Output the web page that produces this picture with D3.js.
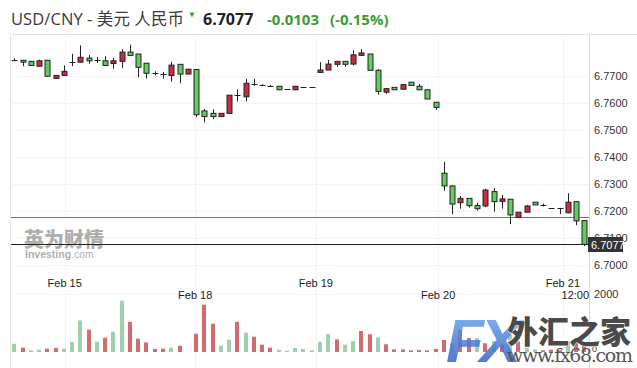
<!DOCTYPE html>
<html>
<head>
<meta charset="utf-8">
<script src="https://cdn.jsdelivr.net/npm/d3@7"></script>
<style>
  body { margin: 0; background: #fff; }
  svg { display: block; font-family: Arial, "Liberation Sans", sans-serif; }
</style>
</head>
<body>
<div id="chart"></div>
<script>
const opens = [6.7759, 6.7757, 6.7753, 6.7735, 6.7757, 6.7690, 6.7701, 6.7750, 6.7750, 6.7765,
  6.7759, 6.7755, 6.7745, 6.7753, 6.7787, 6.7780, 6.7746, 6.7709, 6.7706, 6.7701,
  6.7742, 6.7706, 6.7723, 6.7570, 6.7561, 6.7549, 6.7561, 6.7628, 6.7622, 6.7670,
  6.7666, 6.7663, 6.7661, 6.7650, 6.7648, 6.7659, 6.7659, 6.7712, 6.7721, 6.7742,
  6.7753, 6.7743, 6.7775, 6.7780, 6.7720, 6.7639, 6.7657, 6.7650, 6.7676, 6.7661,
  6.7648, 6.7602, 6.7340, 6.7293, 6.7231, 6.7247, 6.7221, 6.7219, 6.7272, 6.7236,
  6.7244, 6.7177, 6.7196, 6.7233, 6.7223, 6.7210, 6.7210, 6.7194, 6.7235, 6.7165];
const highs = [6.7765, 6.7758, 6.7753, 6.7759, 6.7757, 6.7701, 6.7738, 6.7781, 6.7812, 6.7777,
  6.7769, 6.7772, 6.7765, 6.7798, 6.7814, 6.7780, 6.7746, 6.7716, 6.7714, 6.7751,
  6.7742, 6.7724, 6.7723, 6.7577, 6.7576, 6.7561, 6.7628, 6.7649, 6.7689, 6.7689,
  6.7669, 6.7666, 6.7661, 6.7650, 6.7661, 6.7659, 6.7659, 6.7750, 6.7758, 6.7753,
  6.7753, 6.7794, 6.7798, 6.7780, 6.7724, 6.7652, 6.7657, 6.7667, 6.7676, 6.7669,
  6.7648, 6.7602, 6.7382, 6.7296, 6.7256, 6.7247, 6.7231, 6.7283, 6.7285, 6.7260,
  6.7244, 6.7196, 6.7223, 6.7233, 6.7228, 6.7210, 6.7210, 6.7266, 6.7235, 6.7165];
const lows = [6.7753, 6.7735, 6.7738, 6.7735, 6.7698, 6.7690, 6.7701, 6.7735, 6.7747, 6.7744,
  6.7747, 6.7738, 6.7726, 6.7728, 6.7772, 6.7694, 6.7689, 6.7701, 6.7689, 6.7678,
  6.7672, 6.7706, 6.7547, 6.7528, 6.7540, 6.7549, 6.7561, 6.7605, 6.7605, 6.7663,
  6.7662, 6.7660, 6.7648, 6.7650, 6.7648, 6.7659, 6.7659, 6.7710, 6.7721, 6.7733,
  6.7733, 6.7738, 6.7775, 6.7720, 6.7630, 6.7633, 6.7648, 6.7650, 6.7664, 6.7648,
  6.7614, 6.7574, 6.7275, 6.7188, 6.7209, 6.7213, 6.7202, 6.7215, 6.7198, 6.7209,
  6.7152, 6.7177, 6.7196, 6.7223, 6.7217, 6.7210, 6.7189, 6.7192, 6.7148, 6.7071];
const closes = [6.7759, 6.7750, 6.7738, 6.7755, 6.7698, 6.7701, 6.7716, 6.7750, 6.7768, 6.7755,
  6.7759, 6.7738, 6.7755, 6.7787, 6.7775, 6.7731, 6.7709, 6.7709, 6.7706, 6.7739,
  6.7706, 6.7724, 6.7556, 6.7549, 6.7549, 6.7561, 6.7628, 6.7628, 6.7672, 6.7670,
  6.7666, 6.7663, 6.7648, 6.7650, 6.7661, 6.7659, 6.7659, 6.7721, 6.7743, 6.7753,
  6.7742, 6.7777, 6.7784, 6.7720, 6.7642, 6.7652, 6.7648, 6.7667, 6.7664, 6.7648,
  6.7614, 6.7583, 6.7293, 6.7226, 6.7247, 6.7220, 6.7209, 6.7278, 6.7235, 6.7245,
  6.7186, 6.7196, 6.7219, 6.7223, 6.7223, 6.7210, 6.7210, 6.7233, 6.7164, 6.7077];

const volumes = [286, 150, 57, 80, 115, 138, 115, 355, 1090, 770,
  355, 493, 700, 1770, 1045, 459, 333, 103, 115, 150,
  217, 0, 631, 1630, 977, 217, 425, 1045, 666, 528,
  252, 150, 80, 45, 138, 103, 57, 355, 620, 438,
  252, 380, 724, 610, 507, 265, 90, 90, 57, 68,
  57, 103, 414, 300, 760, 480, 480, 300, 380, 250,
  590, 360, 140, 90, 60, 80, 60, 380, 360, 300];
const volumeUp = "uduudduuududuuddddduddddduududdduuuuuuuduuddudddddddduddudududuudddudd";

const priceTicks = [6.70, 6.71, 6.72, 6.73, 6.74, 6.75, 6.76, 6.77];
const volumeTicks = [0, 2000];
const dateLabels = ["Feb 15", "Feb 18", "Feb 19", "Feb 20", "Feb 21", "12:00"];
const datePositions = [6.1, 21.9, 36.5, 51.3, 66.4, 67.9];
const dateRows = [0, 1, 0, 1, 0, 1];
const prevClose = 6.7180;
const lastPrice = 6.7077;

const width = 637;
const height = 368;

const fmt4 = (v) => d3.format(".4f")(v).replace("\u2212", "-");
const fmt2 = (v) => d3.format(".2f")(v).replace("\u2212", "-");

const svg = d3.select("#chart")
  .append("svg")
  .attr("width", width)
  .attr("height", height);

const x = d3.scaleLinear().domain([0, opens.length - 1]).range([14.3, 584.4]);
const y = d3.scaleLinear().domain([6.70, 6.77]).range([265.3, 75.7]);
const yVol = d3.scaleLinear().domain([0, 2000]).range([352, 294]);

// frame and grid
svg.append("line")
  .attr("x1", 10).attr("x2", width).attr("y1", 34.5).attr("y2", 34.5)
  .attr("stroke", "#e3e3e3");
svg.append("line")
  .attr("x1", 10.5).attr("x2", 10.5).attr("y1", 34.5).attr("y2", height)
  .attr("stroke", "#e3e3e3");

svg.selectAll(".hgrid")
  .data(priceTicks)
  .join("line")
  .attr("class", "hgrid")
  .attr("x1", 11).attr("x2", 589)
  .attr("y1", (d) => Math.round(y(d)) + 0.5)
  .attr("y2", (d) => Math.round(y(d)) + 0.5)
  .attr("stroke", "#f3f3f3");

svg.selectAll(".vgrid")
  .data(datePositions.slice(0, 5))
  .join("line")
  .attr("class", "vgrid")
  .attr("x1", (d) => Math.round(x(d)) + 0.5)
  .attr("x2", (d) => Math.round(x(d)) + 0.5)
  .attr("y1", 35).attr("y2", height)
  .attr("stroke", "#f3f3f3");

svg.append("line")
  .attr("x1", 11).attr("x2", 589).attr("y1", yVol(2000) + 0.5).attr("y2", yVol(2000) + 0.5)
  .attr("stroke", "#f3f3f3");

svg.append("line")
  .attr("x1", 589.5).attr("x2", 589.5).attr("y1", 35).attr("y2", height)
  .attr("stroke", "#d8d8d8");

// Investing watermark
const inv = svg.append("g").attr("opacity", 0.6);
inv.append("text")
  .attr("x", 24).attr("y", 247)
  .attr("font-family", "'Noto Sans CJK SC', sans-serif")
  .attr("font-size", 20).attr("font-weight", 900)
  .attr("fill", "#7a7a7a")
  .text("英为财情");
inv.append("text")
  .attr("x", 25).attr("y", 258)
  .attr("font-size", 10.5)
  .attr("fill", "#7a7a7a")
  .html('<tspan font-weight="bold">Investing</tspan>.com');

// volume
svg.selectAll(".vol")
  .data(volumes.map((v, i) => ({ v, i, up: volumeUp[i] === "u" })))
  .join("rect")
  .attr("class", "vol")
  .attr("x", (d) => Math.round(x(d.i)) - 2)
  .attr("width", 4)
  .attr("y", (d) => yVol(d.v))
  .attr("height", (d) => yVol(0) - yVol(d.v))
  .attr("fill", (d) => (d.up ? "#9fd0ae" : "#d46b70"));

// reference lines
svg.append("line")
  .attr("x1", 11).attr("x2", 589)
  .attr("y1", Math.round(y(prevClose)) + 0.5).attr("y2", Math.round(y(prevClose)) + 0.5)
  .attr("stroke", "#d64545");

svg.append("line")
  .attr("x1", 11).attr("x2", 589)
  .attr("y1", Math.round(y(lastPrice)) + 0.5).attr("y2", Math.round(y(lastPrice)) + 0.5)
  .attr("stroke", "#222");

// candles
const candleData = opens.map((o, i) => ({ i, o, h: highs[i], l: lows[i], c: closes[i] }));

const candles = svg.selectAll(".candle")
  .data(candleData)
  .join("g")
  .attr("class", "candle")
  .attr("transform", (d) => `translate(${Math.round(x(d.i)) + 0.5},0)`);

candles.append("line")
  .attr("y1", (d) => y(d.h))
  .attr("y2", (d) => y(d.l))
  .attr("stroke", "#222");

candles.filter((d) => d.o !== d.c)
  .append("rect")
  .attr("x", -2.5)
  .attr("width", 5)
  .attr("y", (d) => y(Math.max(d.o, d.c)))
  .attr("height", (d) => Math.max(1, y(Math.min(d.o, d.c)) - y(Math.max(d.o, d.c))))
  .attr("fill", (d) => (d.c < d.o ? "#5fcd5f" : "#c92c40"))
  .attr("stroke", "#222");

candles.filter((d) => d.o === d.c)
  .append("line")
  .attr("x1", -3).attr("x2", 3)
  .attr("y1", (d) => Math.round(y(d.c)) + 0.5)
  .attr("y2", (d) => Math.round(y(d.c)) + 0.5)
  .attr("stroke", "#222");

// price axis
svg.selectAll(".ptick")
  .data(priceTicks)
  .join("text")
  .attr("class", "ptick")
  .attr("x", 594)
  .attr("y", (d) => y(d) + 4)
  .attr("font-size", 11)
  .attr("fill", "#333")
  .text(fmt4);

svg.selectAll(".vtick")
  .data(volumeTicks)
  .join("text")
  .attr("class", "vtick")
  .attr("x", (d) => (d === 0 ? 592 : 594))
  .attr("y", (d) => yVol(d) + (d === 0 ? 0 : 4))
  .attr("font-size", (d) => (d === 0 ? 9 : 11))
  .attr("fill", "#333")
  .text((d) => d);

svg.append("rect")
  .attr("x", 588).attr("y", Math.round(y(lastPrice)) - 7)
  .attr("width", 35).attr("height", 15)
  .attr("fill", "#333");
svg.append("text")
  .attr("x", 591).attr("y", Math.round(y(lastPrice)) + 4.5)
  .attr("font-size", 11)
  .attr("fill", "#fff")
  .text(fmt4(lastPrice));

// date axis
svg.selectAll(".dtick")
  .data(dateLabels)
  .join("text")
  .attr("class", "dtick")
  .attr("x", (d, i) => x(datePositions[i]))
  .attr("y", (d, i) => (dateRows[i] ? 299 : 287))
  .attr("text-anchor", "middle")
  .attr("font-size", 11)
  .attr("fill", "#222")
  .text((d) => d);

// header
svg.append("text")
  .attr("x", 11).attr("y", 25)
  .attr("font-family", "'Open Sans', 'Noto Sans CJK SC', sans-serif")
  .attr("font-size", 16.5)
  .attr("fill", "#3a3a3a")
  .attr("textLength", 173)
  .text("USD/CNY - 美元 人民币");

svg.append("path")
  .attr("d", "M189.5,12.5 L194.5,12.5 L192,17.5 Z")
  .attr("fill", "#3d9b35");

svg.append("text")
  .attr("x", 203).attr("y", 25)
  .attr("font-family", "'Open Sans', sans-serif")
  .attr("font-size", 16).attr("font-weight", "bold")
  .attr("fill", "#222")
  .text(fmt4(lastPrice));

svg.append("text")
  .attr("x", 267).attr("y", 25)
  .attr("font-family", "'Open Sans', sans-serif")
  .attr("font-size", 15).attr("font-weight", "bold")
  .attr("fill", "#3d9b35")
  .text(fmt4(lastPrice - prevClose));

svg.append("text")
  .attr("x", 330).attr("y", 25)
  .attr("font-family", "'Open Sans', sans-serif")
  .attr("font-size", 15).attr("font-weight", "bold")
  .attr("fill", "#3d9b35")
  .text(`(${fmt2((lastPrice - prevClose) / prevClose * 100)}%)`);

// fx68 watermark
const defs = svg.append("defs");
const grad = defs.append("linearGradient")
  .attr("id", "fxgrad")
  .attr("x1", 0).attr("y1", 0).attr("x2", 0).attr("y2", 1);
grad.append("stop").attr("offset", "0%").attr("stop-color", "#6fb0f0");
grad.append("stop").attr("offset", "100%").attr("stop-color", "#2f4fc0");

const wm = svg.append("g");
wm.append("text")
  .attr("x", 446).attr("y", 362)
  .attr("font-family", "Arial, sans-serif")
  .attr("font-size", 62).attr("font-weight", "bold")
  .attr("font-style", "italic")
  .attr("letter-spacing", -4)
  .attr("fill", "url(#fxgrad)")
  .attr("opacity", 0.85)
  .text("FX");
wm.append("text")
  .attr("x", 507).attr("y", 343)
  .attr("font-family", "'Noto Sans CJK SC', sans-serif")
  .attr("font-size", 31).attr("font-weight", 900)
  .attr("fill", "#4a4a4a")
  .attr("stroke", "#fff").attr("stroke-width", 1)
  .attr("paint-order", "stroke")
  .text("外汇之家");
wm.append("text")
  .attr("x", 507).attr("y", 362)
  .attr("font-family", "'DejaVu Serif', 'Liberation Serif', serif")
  .attr("font-size", 19)
  .attr("fill", "#555")
  .attr("textLength", 126)
  .text("www.fx68.com");
</script>
</body>
</html>
